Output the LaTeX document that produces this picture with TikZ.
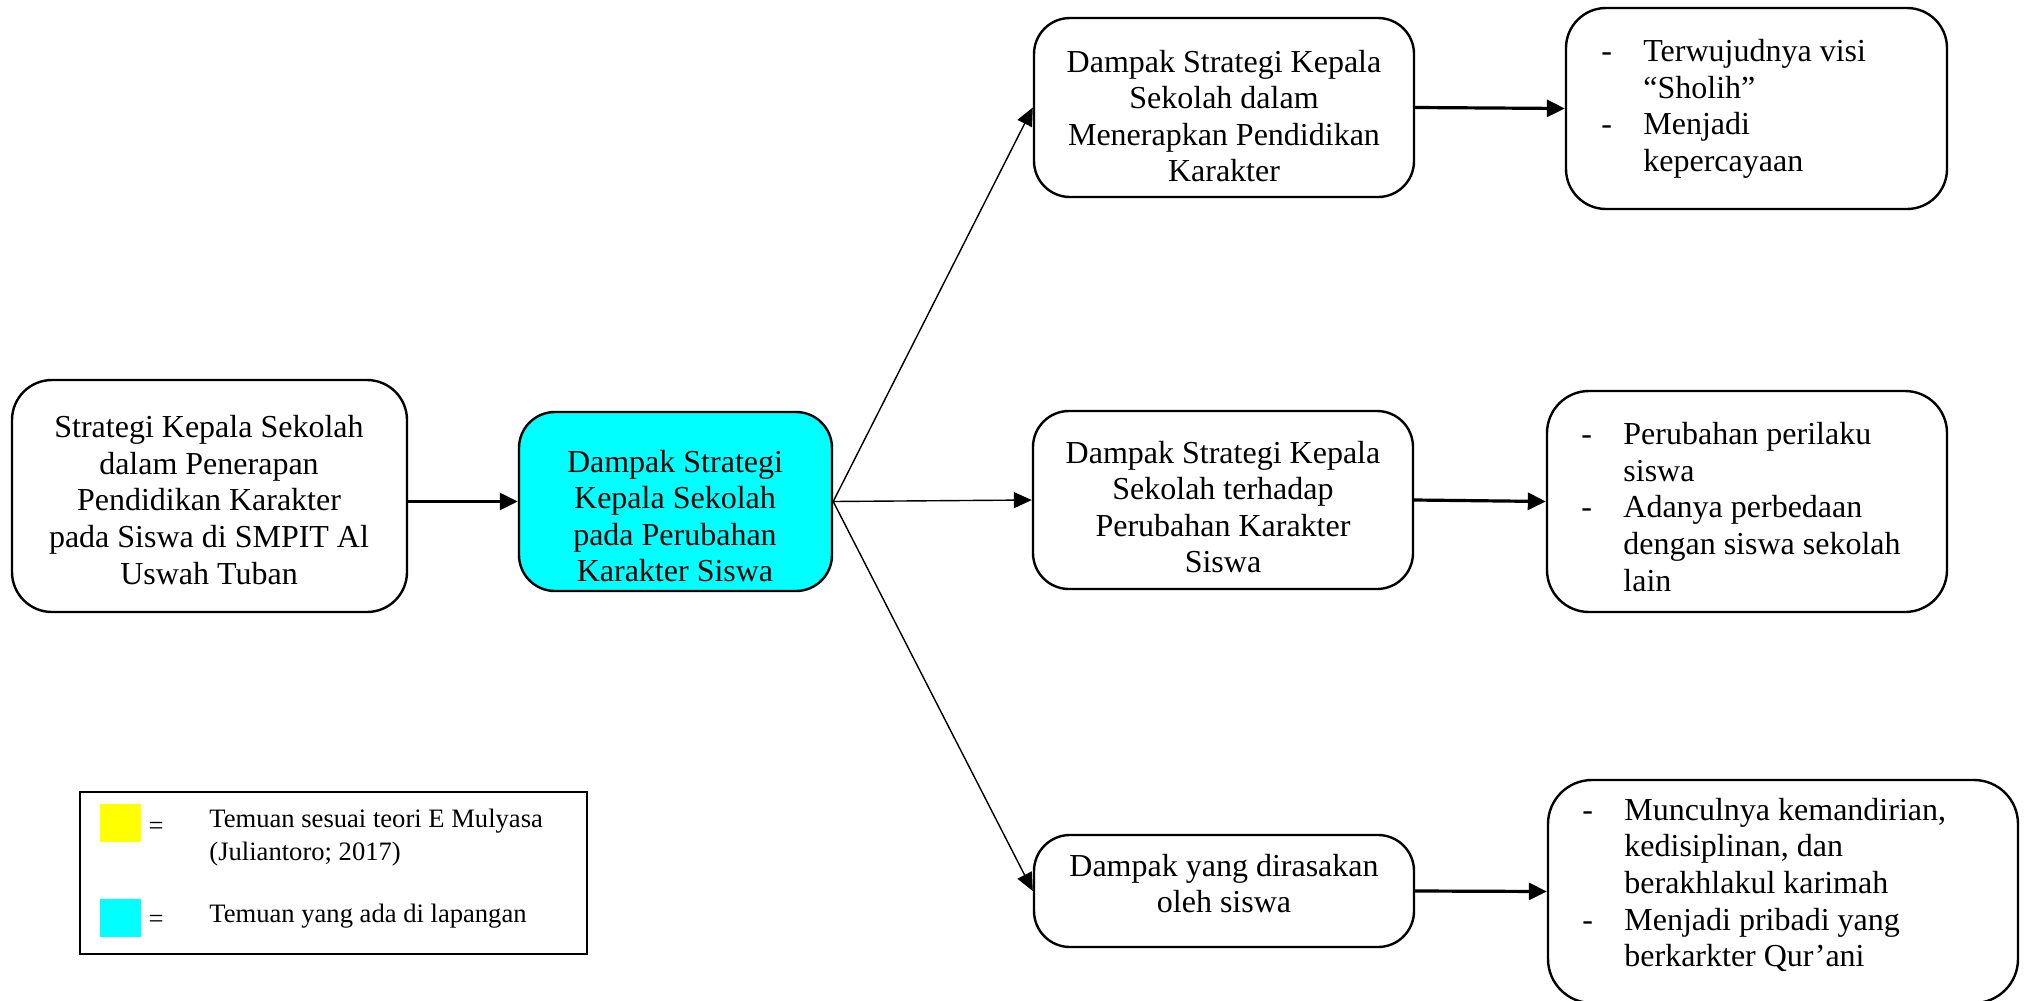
\documentclass[tikz,border=0pt]{standalone}
\usepackage{fontspec}
\setmainfont{Liberation Serif}
\usetikzlibrary{arrows.meta}
\definecolor{aquafill}{RGB}{0,255,255}
\definecolor{yelfill}{RGB}{255,255,0}
\newcommand\lidash{\makebox[21pt][l]{-}}
\newcommand\liind{\hspace*{21pt}}
\begin{document}
\begin{tikzpicture}[x=0.5pt,y=-0.5pt,
  box/.style={draw, line width=1.2pt, rounded corners=18pt, inner sep=0pt},
  btext/.style={align=center, font=\fontsize{16}{18.3}\selectfont, inner sep=0pt},
  ltext/.style={align=left, font=\fontsize{16}{18.3}\selectfont, inner sep=0pt, anchor=west},
  legtext/.style={align=left, font=\fontsize{13.3}{16.5}\selectfont, inner sep=0pt, anchor=west},
  harrow/.style={line width=1.6pt, -{Triangle[length=9pt,width=8.5pt]}},
  darrow/.style={line width=0.7pt, -{Triangle[length=9pt,width=8pt]}},
]
\useasboundingbox (0,0) rectangle (2030,1001);

% boxes
\node[box, rounded corners=20pt, minimum width=197.5pt, minimum height=116pt] (A) at (209.5,496) {};
\node[box, fill=aquafill, minimum width=156.5pt, minimum height=89.5pt] (B) at (675.5,501.5) {};
\node[box, minimum width=190pt, minimum height=89.5pt] (C1) at (1224,107.5) {};
\node[box, minimum width=190pt, minimum height=89pt] (C2) at (1223,500) {};
\node[box, minimum width=190pt, minimum height=56pt] (C3) at (1224,891) {};
\node[box, rounded corners=20pt, minimum width=190.5pt, minimum height=100.5pt] (D1) at (1756.5,108.5) {};
\node[box, rounded corners=21pt, minimum width=200pt, minimum height=110.5pt] (D2) at (1747,501.5) {};
\node[box, rounded corners=22pt, minimum width=235pt, minimum height=111.5pt] (D3) at (1783,891.5) {};

% texts
\node[btext] (At) at (209,500) {Strategi Kepala Sekolah\\dalam Penerapan\\Pendidikan Karakter\\pada Siswa di SMPIT Al\\Uswah Tuban};
\node[btext] (Bt) at (675,516) {Dampak Strategi\\Kepala Sekolah\\pada Perubahan\\Karakter Siswa};
\node[btext] (C1t) at (1224,116) {Dampak Strategi Kepala\\Sekolah dalam\\Menerapkan Pendidikan\\Karakter};
\node[btext] (C2t) at (1223,507) {Dampak Strategi Kepala\\Sekolah terhadap\\Perubahan Karakter\\Siswa};
\node[btext] (C3t) at (1224,883.5) {Dampak yang dirasakan\\oleh siswa};
\node[ltext] (D1t) at (1601,109) {\lidash Terwujudnya visi\\\liind “Sholih”\\\lidash Menjadi\\\liind kepercayaan};
\node[ltext] (D2t) at (1581,507) {\lidash Perubahan perilaku\\\liind siswa\\\lidash Adanya perbedaan\\\liind dengan siswa sekolah\\\liind lain};
\node[ltext] (D3t) at (1582,885) {\lidash Munculnya kemandirian,\\\liind kedisiplinan, dan\\\liind berakhlakul karimah\\\lidash Menjadi pribadi yang\\\liind berkarkter Qur’ani};

% connectors
\draw[harrow] (A.east |- B.west) -- (B.west);
\draw[darrow] (B.east) -- (C1.west);
\draw[darrow] (B.east) -- (C2.west);
\draw[darrow] (B.east) -- (C3.west);
\draw[harrow] (C1.east) -- (D1.west);
\draw[harrow] (C2.east) -- (D2.west);
\draw[harrow] (C3.east) -- (D3.west);

% legend
\node[draw, line width=0.9pt, minimum width=253.5pt, minimum height=81pt, inner sep=0pt] (leg) at (333.5,873) {};
\node[fill=yelfill, minimum width=20.5pt, minimum height=19pt, inner sep=0pt] (ysq) at (120.5,823) {};
\node[fill=aquafill, minimum width=20.5pt, minimum height=19pt, inner sep=0pt] (csq) at (120.5,918) {};
\node[font=\fontsize{13.3}{16.5}\selectfont, inner sep=0pt] (eq1) at (156,828) {=};
\node[font=\fontsize{13.3}{16.5}\selectfont, inner sep=0pt] (eq2) at (156,921) {=};
\node[legtext] (lt1) at (209,837.5) {Temuan sesuai teori E Mulyasa\\(Juliantoro; 2017)};
\node[legtext] (lt2) at (209,916) {Temuan yang ada di lapangan};
\end{tikzpicture}
\end{document}
